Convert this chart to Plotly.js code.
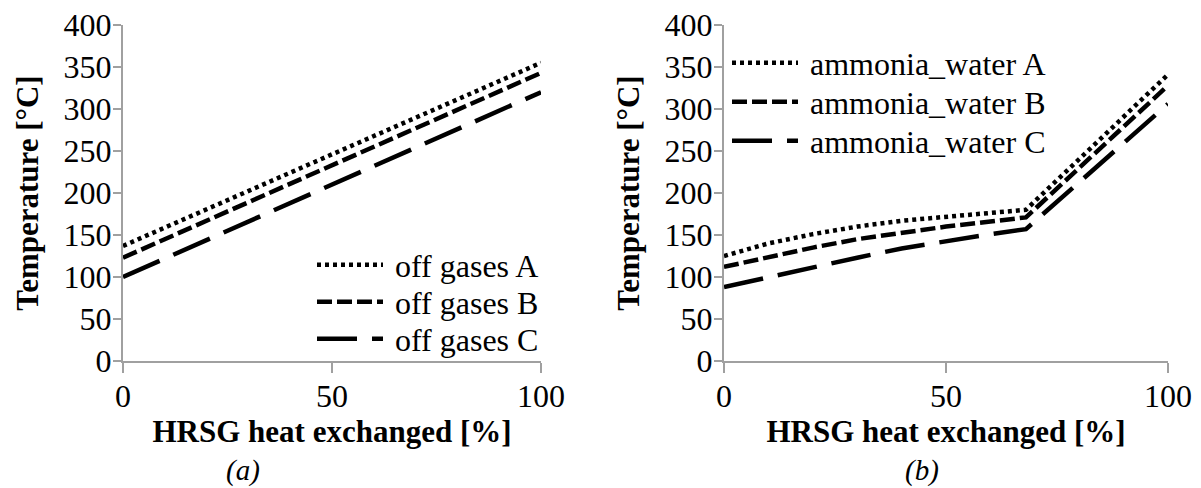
<!DOCTYPE html>
<html>
<head>
<meta charset="utf-8">
<script src="https://cdn.plot.ly/plotly-3.0.1.min.js"></script>
<style>html,body{margin:0;padding:0;background:#fff;}#chart{width:1201px;height:488px;}</style>
</head>
<body>
<div id="chart"></div>
<script>
// ---- data ----
const xLeft = [0, 100];
const offGasesA = [137, 355];
const offGasesB = [123, 343];
const offGasesC = [100, 320];

const xRight = [0, 10, 20, 30, 40, 50, 60, 68, 100];
const ammoniaA = [125, 140, 151, 160, 167, 172, 176, 180, 341];
const ammoniaB = [112, 124, 135, 145, 153, 160, 166, 171, 328];
const ammoniaC = [88, 100, 112, 123, 134, 143, 151, 157, 306];

const namesLeft = ['off gases A', 'off gases B', 'off gases C'];
const namesRight = ['ammonia_water A', 'ammonia_water B', 'ammonia_water C'];
const xTicks = [0, 50, 100];
const yTicks = [0, 50, 100, 150, 200, 250, 300, 350, 400];
const xTitle = 'HRSG heat exchanged [%]';
const yTitle = 'Temperature [°C]';
const panelLabels = ['(a)', '(b)'];

// ---- styles ----
const FONT = '"Liberation Serif", "Times New Roman", Times, serif';
const dashes = ['4px,4px', '15px,5px', '40px,15px'];
const LW = 4.5;
const TICK_SIZE = 32, TITLE_SIZE = 31, LEG_SIZE = 32, PANEL_SIZE = 29;

const legendKey = i => (i === 0 ? 'legend' : 'legend' + (i + 1));
const traces = [];
[offGasesA, offGasesB, offGasesC].forEach((ys, i) => {
  traces.push({x: xLeft, y: ys, name: namesLeft[i], mode: 'lines', xaxis: 'x', yaxis: 'y',
    legend: legendKey(i), line: {color: '#000', width: LW, dash: dashes[i]}});
});
[ammoniaA, ammoniaB, ammoniaC].forEach((ys, i) => {
  traces.push({x: xRight, y: ys, name: namesRight[i], mode: 'lines', xaxis: 'x2', yaxis: 'y2',
    legend: legendKey(i + 3), line: {color: '#000', width: LW, dash: dashes[i]}});
});

const axisColor = '#a0a0a0';
function xAxis(domain, anchor) {
  return {domain: domain, anchor: anchor, range: [0, 100], tickvals: xTicks, ticktext: xTicks.map(String),
    showgrid: false, zeroline: false, showline: true, linecolor: axisColor, linewidth: 2,
    ticks: 'outside', ticklen: 10, tickwidth: 2, tickcolor: axisColor, ticklabelstandoff: -4,
    tickfont: {family: FONT, size: TICK_SIZE, color: '#000'},
    title: {text: xTitle, font: {family: FONT, size: TITLE_SIZE, color: '#000', weight: 'bold'}, standoff: 0}};
}
function yAxis(domain, anchor) {
  return {domain: domain, anchor: anchor, range: [0, 400], tickvals: yTicks, ticktext: yTicks.map(String),
    showgrid: false, zeroline: false, showline: true, linecolor: axisColor, linewidth: 2,
    ticks: 'outside', ticklen: 8, tickwidth: 2, tickcolor: axisColor, ticklabelstandoff: -5,
    tickfont: {family: FONT, size: TICK_SIZE, color: '#000'},
    title: {text: yTitle, font: {family: FONT, size: TITLE_SIZE, color: '#000', weight: 'bold'}, standoff: 16}};
}
function leg(xPx, yPx) {
  return {x: xPx / 1201, xanchor: 'left', y: 1 - yPx / 488, yanchor: 'middle', bgcolor: 'rgba(0,0,0,0)',
    font: {family: FONT, size: LEG_SIZE, color: '#000'}, itemwidth: 73, tracegroupgap: 0};
}
const yDom = [1 - 361/488, 1 - 25/488];
const layout = {
  width: 1201, height: 488,
  margin: {l: 0, r: 0, t: 0, b: 0},
  paper_bgcolor: '#fff', plot_bgcolor: '#fff',
  font: {family: FONT},
  showlegend: true,
  xaxis: xAxis([123/1201, 541/1201], 'y'),
  yaxis: yAxis(yDom, 'x'),
  xaxis2: xAxis([724/1201, 1168/1201], 'y2'),
  yaxis2: yAxis(yDom, 'x2'),
  legend: leg(312, 265),
  legend2: leg(312, 302),
  legend3: leg(312, 339),
  legend4: leg(727, 63),
  legend5: leg(727, 102),
  legend6: leg(727, 141),
  annotations: [
    {text: panelLabels[0], xref: 'paper', yref: 'paper', x: 243/1201, y: 1 - 470/488, xanchor: 'center', yanchor: 'middle',
     showarrow: false, font: {family: FONT, size: PANEL_SIZE, color: '#000', style: 'italic'}},
    {text: panelLabels[1], xref: 'paper', yref: 'paper', x: 922/1201, y: 1 - 470/488, xanchor: 'center', yanchor: 'middle',
     showarrow: false, font: {family: FONT, size: PANEL_SIZE, color: '#000', style: 'italic'}}
  ]
};
Plotly.newPlot('chart', traces, layout, {displayModeBar: false, staticPlot: true}).then(gd => {
  // lengthen the legend line samples to match the reference
  gd.querySelectorAll('.legendlines path').forEach(p => p.setAttribute('d', 'M5,0h66'));
});
</script>
</body>
</html>
